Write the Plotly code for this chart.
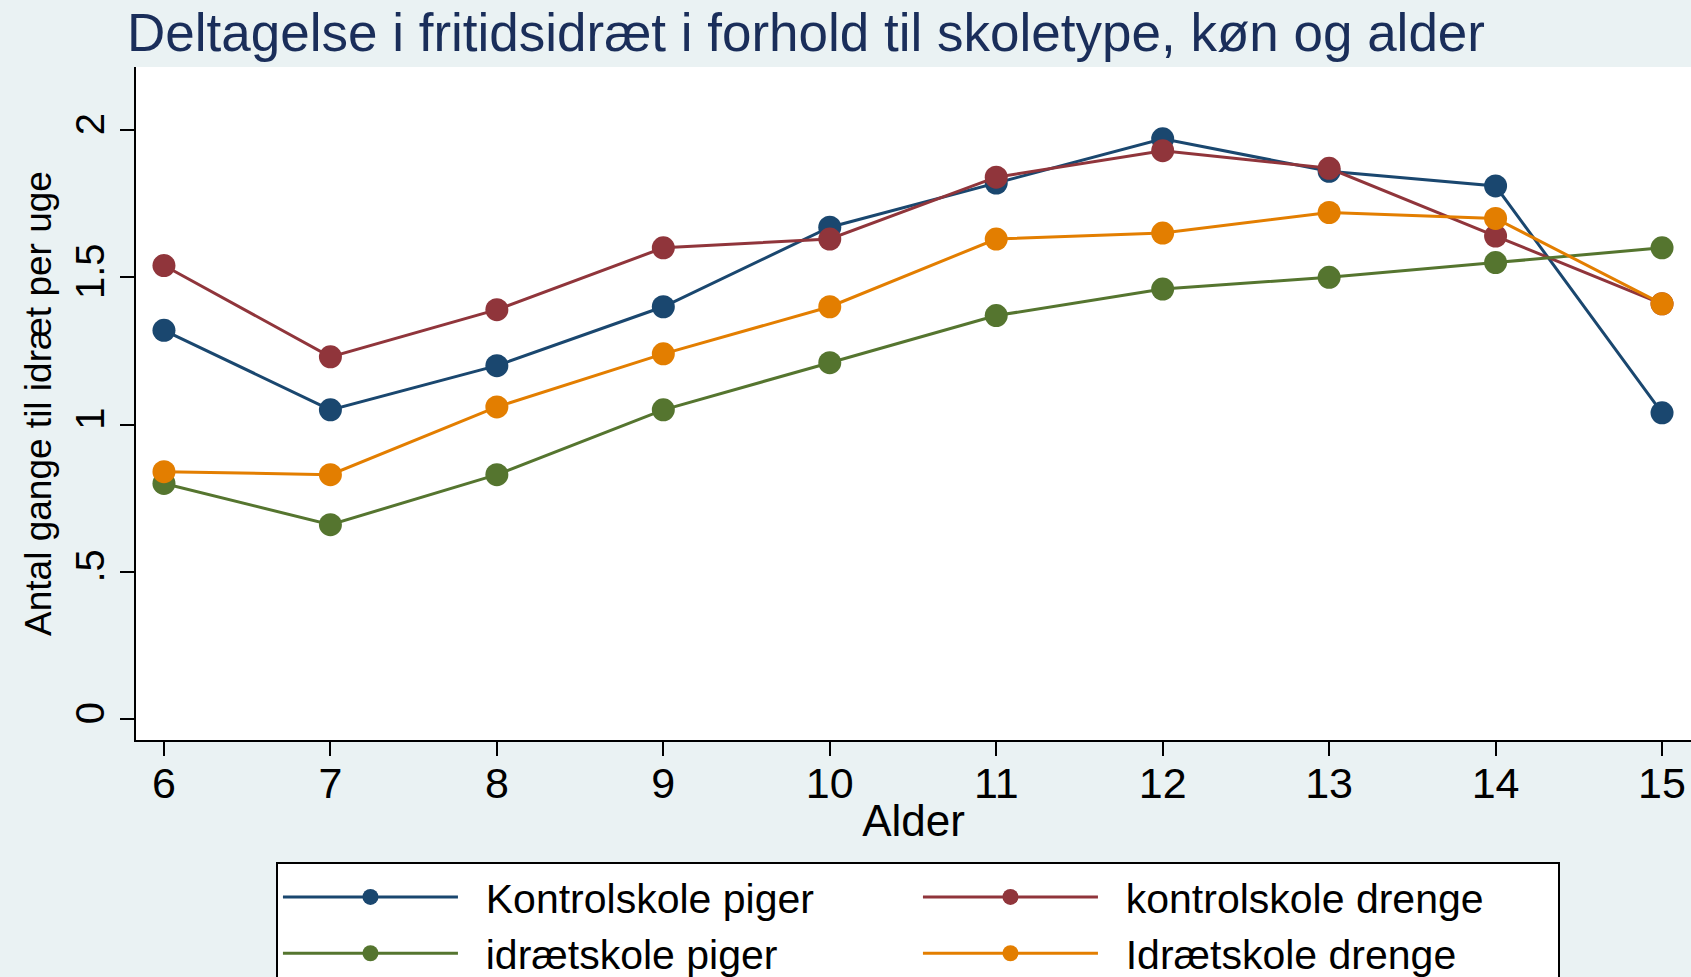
import plotly.graph_objects as go

alder = [6, 7, 8, 9, 10, 11, 12, 13, 14, 15]

kontrol_piger = [1.32, 1.05, 1.20, 1.40, 1.67, 1.82, 1.97, 1.86, 1.81, 1.04]
kontrol_drenge = [1.54, 1.23, 1.39, 1.60, 1.63, 1.84, 1.93, 1.87, 1.64, 1.41]
idraet_piger = [0.80, 0.66, 0.83, 1.05, 1.21, 1.37, 1.46, 1.50, 1.55, 1.60]
idraet_drenge = [0.84, 0.83, 1.06, 1.24, 1.40, 1.63, 1.65, 1.72, 1.70, 1.41]

y_ticks = [0, 0.5, 1, 1.5, 2]
y_ticktext = ["0", ".5", "1", "1.5", "2"]
grid_vals = [0.5, 1, 1.5, 2]

series = [
    ("Kontrolskole piger", kontrol_piger, "#1a476f"),
    ("kontrolskole drenge", kontrol_drenge, "#90353b"),
    ("idrætskole piger", idraet_piger, "#55752f"),
    ("Idrætskole drenge", idraet_drenge, "#e37e00"),
]

bg = "#eaf2f3"
font = "Liberation Sans, Arial, sans-serif"
y_range = [-0.071, 2.214]

fig = go.Figure()
for name, vals, col in series:
    fig.add_trace(go.Scatter(x=alder, y=vals, name="\u00a0\u00a0" + name,
                             mode="lines+markers",
                             line=dict(color=col, width=3),
                             marker=dict(color=col, size=23)))

fig.update_layout(
    width=1691, height=977,
    paper_bgcolor=bg, plot_bgcolor="white",
    font=dict(family=font, color="black", size=40),
    margin=dict(l=136, r=0, t=67, b=237, autoexpand=False),
    title=dict(text="Deltagelse i fritidsidræt i forhold til skoletype, køn og alder",
               font=dict(size=53, color="#1a2e5a"),
               x=127 / 1691, xanchor="left", xref="container",
               y=1 - 32 / 977, yanchor="middle", yref="container"),
    xaxis=dict(range=[5.832, 15.174], tickvals=alder, showgrid=False,
               showline=True, linecolor="black", linewidth=2,
               ticks="outside", ticklen=14, tickwidth=2, tickcolor="black",
               zeroline=False, tickfont=dict(size=43), ticklabelstandoff=-10,
               title=dict(text="Alder", font=dict(size=44), standoff=0)),
    yaxis=dict(range=y_range, tickvals=y_ticks, ticktext=y_ticktext,
               tickangle=-90, showgrid=False,
               showline=True, linecolor="black", linewidth=2,
               ticks="outside", ticklen=14, tickwidth=2, tickcolor="black",
               zeroline=False, tickfont=dict(size=40),
               title=dict(text="Antal gange til idræt per uge", font=dict(size=37), standoff=5)),
    # second y axis only for the grid, Stata leaves out the line at 0
    yaxis2=dict(range=y_range, overlaying="y", side="left", tickvals=grid_vals,
                showticklabels=False, ticks="", showline=False, zeroline=False,
                showgrid=True, gridcolor=bg, gridwidth=3, layer="below traces"),
    legend=dict(orientation="h", x=0.09, xanchor="left", y=-0.181, yanchor="top",
                bgcolor="white", bordercolor="black", borderwidth=2,
                entrywidth=450, entrywidthmode="pixels", itemwidth=175,
                font=dict(size=41)),
    showlegend=True,
)

fig.write_html("out.html", config={"displayModeBar": False},
               post_script="document.body.style.margin='0';")
